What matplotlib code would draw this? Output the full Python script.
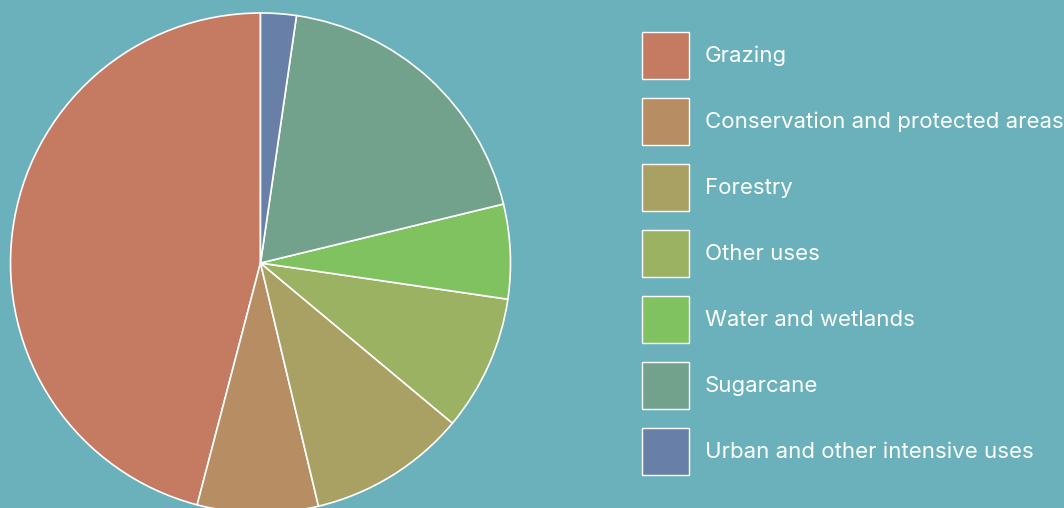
import matplotlib.pyplot as plt
from matplotlib.patches import Rectangle

categories = ['Grazing', 'Conservation and protected areas', 'Forestry', 'Other uses',
              'Water and wetlands', 'Sugarcane', 'Urban and other intensive uses']
shares = [45.9, 7.8, 10.2, 8.75, 6.1, 18.9, 2.3]
colors = ['#C47B62', '#B78D63', '#A9A064', '#9AB262', '#80C260', '#72A28C', '#6880A8']
bg = '#6AB1BB'

W, H = 1064, 508
fig = plt.figure(figsize=(W / 100, H / 100), dpi=100, facecolor=bg)

# pie centre at (260.5, 245) px from bottom-left, radius 250 px
cx, cy, r = 260.5, 245, 250
ax = fig.add_axes([(cx - r) / W, (cy - r) / H, 2 * r / W, 2 * r / H])
ax.set_facecolor(bg)
ax.pie(shares, colors=colors, startangle=90, counterclock=True, radius=1,
       wedgeprops=dict(edgecolor='white', linewidth=1.2))
ax.set_xlim(-1, 1)
ax.set_ylim(-1, 1)
ax.set_aspect('equal')
ax.axis('off')

# legend drawn by hand
box = 47
for i, (name, c) in enumerate(zip(categories, colors)):
    top = 32 + i * 66
    fig.patches.append(Rectangle((642 / W, 1 - (top + box) / H), box / W, box / H,
                                 transform=fig.transFigure, facecolor=c,
                                 edgecolor='white', linewidth=1.0))
    fig.text(705 / W, 1 - (top + box / 2) / H, name, color='white', fontsize=16,
             family=['Inter', 'DejaVu Sans'], va='center', ha='left')

fig.savefig('out.png', dpi=100, facecolor=bg)
